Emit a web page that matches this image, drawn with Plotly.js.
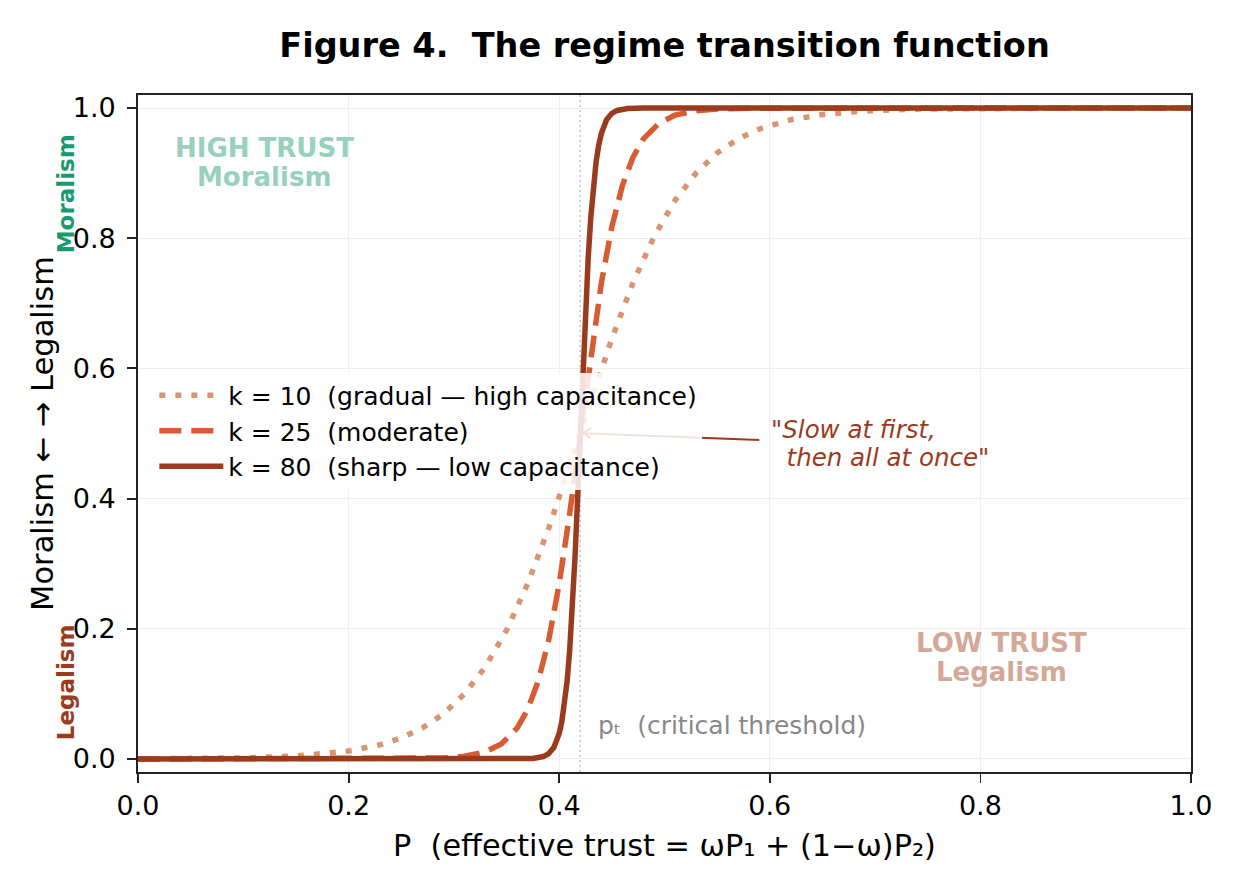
<!DOCTYPE html>
<html>
<head>
<meta charset="utf-8">
<script src="https://cdn.plot.ly/plotly-3.0.1.min.js"></script>
<style>
  html, body { margin: 0; padding: 0; background: #ffffff; }
  #chart { width: 1246px; height: 891px; }
</style>
</head>
<body>
<div id="chart"></div>
<script>
// ---------------- data ----------------
const seriesNames = [
  "k = 10  (gradual \u2014 high capacitance)",
  "k = 25  (moderate)",
  "k = 80  (sharp \u2014 low capacitance)"
];

// k = 10 (gradual)
const gradualP = [0, 0.05, 0.10, 0.15, 0.20, 0.23, 0.25, 0.27, 0.29, 0.31, 0.33, 0.35, 0.37, 0.39, 0.41,
                  0.43, 0.45, 0.47, 0.49, 0.51, 0.53, 0.55, 0.57, 0.59, 0.62, 0.65, 0.69, 0.74, 0.80, 0.90, 1.00];
const gradualY = [0.0002, 0.0006, 0.0017, 0.0045, 0.0121, 0.0219, 0.0323, 0.0474, 0.0691, 0.0998, 0.1419, 0.1978, 0.2689, 0.3543, 0.4502,
                  0.5498, 0.6457, 0.7311, 0.8022, 0.8581, 0.9002, 0.9309, 0.9526, 0.9677, 0.9820, 0.9900, 0.9955, 0.9983, 0.9995, 0.9999, 1.0000];

// k = 25 (moderate)
const moderateP = [0, 0.20, 0.26, 0.29, 0.31, 0.33, 0.345, 0.36, 0.37, 0.38, 0.39, 0.40, 0.41, 0.42,
                   0.43, 0.44, 0.45, 0.46, 0.47, 0.48, 0.495, 0.51, 0.53, 0.55, 0.58, 0.65, 1.00];
const moderateY = [0.0000, 0.0000, 0.0003, 0.0015, 0.0041, 0.0110, 0.0230, 0.0474, 0.0759, 0.1192, 0.1824, 0.2689, 0.3775, 0.5000,
                   0.6225, 0.7311, 0.8176, 0.8808, 0.9241, 0.9526, 0.9770, 0.9890, 0.9959, 0.9985, 0.9997, 1.0000, 1.0000];

// k = 80 (sharp)
const sharpP = [0, 0.30, 0.36, 0.375, 0.385, 0.39, 0.395, 0.40, 0.4025, 0.405, 0.4075, 0.41, 0.4125, 0.415, 0.4175, 0.42,
                0.4225, 0.425, 0.4275, 0.43, 0.4325, 0.435, 0.4375, 0.44, 0.445, 0.45, 0.455, 0.465, 0.48, 0.55, 1.00];
const sharpY = [0.0000, 0.0000, 0.0001, 0.0007, 0.0037, 0.0082, 0.0180, 0.0392, 0.0573, 0.0832, 0.1192, 0.1680, 0.2315, 0.3100, 0.4013, 0.5000,
                0.5987, 0.6900, 0.7685, 0.8320, 0.8808, 0.9168, 0.9427, 0.9608, 0.9820, 0.9918, 0.9963, 0.9993, 0.9999, 1.0000, 1.0000];

const tickValues = [0, 0.2, 0.4, 0.6, 0.8, 1.0];
const tickLabels = ["0.0", "0.2", "0.4", "0.6", "0.8", "1.0"];
const pThreshold = 0.42;       // critical threshold p_t
const arrowTarget = [0.4225, 0.5005];
const arrowTextPos = [0.59, 0.490];

// ---------------- styling ----------------
const FONT = "DejaVu Sans, Verdana, sans-serif";
const cGradual = "#DB9470";
const cModerate = "#D95B32";
const cSharp = "#9A3B1E";

const traces = [
  { x: gradualP, y: gradualY, name: seriesNames[0], legendgroup: "g1", mode: "lines",
    line: { color: cGradual, width: 5.5, dash: "6px,10px" }, hoverinfo: "skip" },
  { x: moderateP, y: moderateY, name: seriesNames[1], legendgroup: "g2", mode: "lines",
    line: { color: cModerate, width: 5.5, dash: "22px,10px" }, hoverinfo: "skip" },
  { x: sharpP, y: sharpY, name: seriesNames[2], legendgroup: "g3", mode: "lines",
    line: { color: cSharp, width: 5.5 }, hoverinfo: "skip" }
];

const axisCommon = {
  showline: true, linecolor: "#222222", linewidth: 1.8, mirror: true,
  ticks: "outside", ticklen: 9, tickwidth: 1.8, tickcolor: "#222222",
  showgrid: true, gridcolor: "#eeeeee", gridwidth: 1,
  zeroline: false,
  tickvals: tickValues, ticktext: tickLabels,
  tickfont: { family: FONT, size: 27, color: "#000000" }
};

function label(text, x, y, size, color, xanchor) {
  return { text: text, xref: "x", yref: "y", x: x, y: y, showarrow: false,
           xanchor: xanchor, yanchor: "middle", align: xanchor === "center" ? "center" : "left",
           font: { family: FONT, size: size, color: color } };
}

const layout = {
  width: 1246, height: 891,
  margin: { l: 138, r: 55, t: 95, b: 119 },
  paper_bgcolor: "#ffffff", plot_bgcolor: "#ffffff",
  font: { family: FONT, color: "#000000" },
  title: {
    text: "<b>Figure 4.  The regime transition function</b>",
    font: { family: FONT, size: 33.5, color: "#000000" },
    x: 0.5, xref: "paper", xanchor: "center",
    y: 1 - 45 / 891, yref: "container", yanchor: "middle"
  },
  xaxis: Object.assign({}, axisCommon, {
    range: [0, 1],
    title: { text: "P  (effective trust = \u03c9P\u2081 + (1\u2212\u03c9)P\u2082)",
             font: { family: FONT, size: 30.3, color: "#000000" }, standoff: 14 }
  }),
  yaxis: Object.assign({}, axisCommon, {
    range: [-0.02, 1.02],
    ticklabelstandoff: 6,
    title: { text: "Moralism \u2190 \u2192 Legalism",
             font: { family: FONT, size: 30.5, color: "#000000" }, standoff: 10 }
  }),
  showlegend: true,
  legend: {
    x: 0.0155, xanchor: "left", y: 0.590, yanchor: "top",
    bgcolor: "rgba(255,255,255,0.85)", bordercolor: "rgba(0,0,0,0)", borderwidth: 0,
    font: { family: FONT, size: 25, color: "#000000" },
    tracegroupgap: 3, itemwidth: 64, traceorder: "normal"
  },
  shapes: [
    { type: "line", xref: "x", yref: "paper", x0: pThreshold, x1: pThreshold, y0: 0, y1: 1,
      line: { color: "#c4c4c4", width: 1.5, dash: "2px,3px" }, layer: "below" },
    { type: "line", xref: "x", yref: "y", x0: arrowTextPos[0], y0: arrowTextPos[1], x1: arrowTarget[0], y1: arrowTarget[1],
      line: { color: cSharp, width: 2 }, layer: "above" },
    { type: "path", xref: "x", yref: "y",
      path: "M " + (arrowTarget[0] + 0.0076) + "," + (arrowTarget[1] + 0.0077) +
            " L " + arrowTarget[0] + "," + arrowTarget[1] +
            " L " + (arrowTarget[0] + 0.0076) + "," + (arrowTarget[1] - 0.0077),
      line: { color: cSharp, width: 2 }, layer: "above" }
  ],
  annotations: [
    label("<b>HIGH TRUST</b>", 0.1206, 0.9386, 26, "#97D1BB", "center"),
    label("<b>Moralism</b>", 0.1206, 0.8940, 26, "#97D1BB", "center"),
    label("<b>LOW TRUST</b>", 0.8205, 0.1782, 26, "#D4A898", "center"),
    label("<b>Legalism</b>", 0.8205, 0.1336, 26, "#D4A898", "center"),
    label("p\u209c  (critical threshold)", 0.435, 0.052, 25, "#888888", "left"),
    label("<i>\"Slow at first,</i>", 0.599, 0.5054, 24.5, cSharp, "left"),
    label("<i>\u00a0\u00a0then all at once\"</i>", 0.599, 0.4639, 24.5, cSharp, "left"),
    { text: "<b>Moralism</b>", xref: "paper", yref: "y", x: -0.0684, y: 0.869, textangle: -90,
      showarrow: false, xanchor: "center", yanchor: "middle",
      font: { family: FONT, size: 23, color: "#1B9A72" } },
    { text: "<b>Legalism</b>", xref: "paper", yref: "y", x: -0.0684, y: 0.118, textangle: -90,
      showarrow: false, xanchor: "center", yanchor: "middle",
      font: { family: FONT, size: 23, color: cSharp } }
  ]
};

Plotly.newPlot("chart", traces, layout, { staticPlot: true, displayModeBar: false });
</script>
</body>
</html>
